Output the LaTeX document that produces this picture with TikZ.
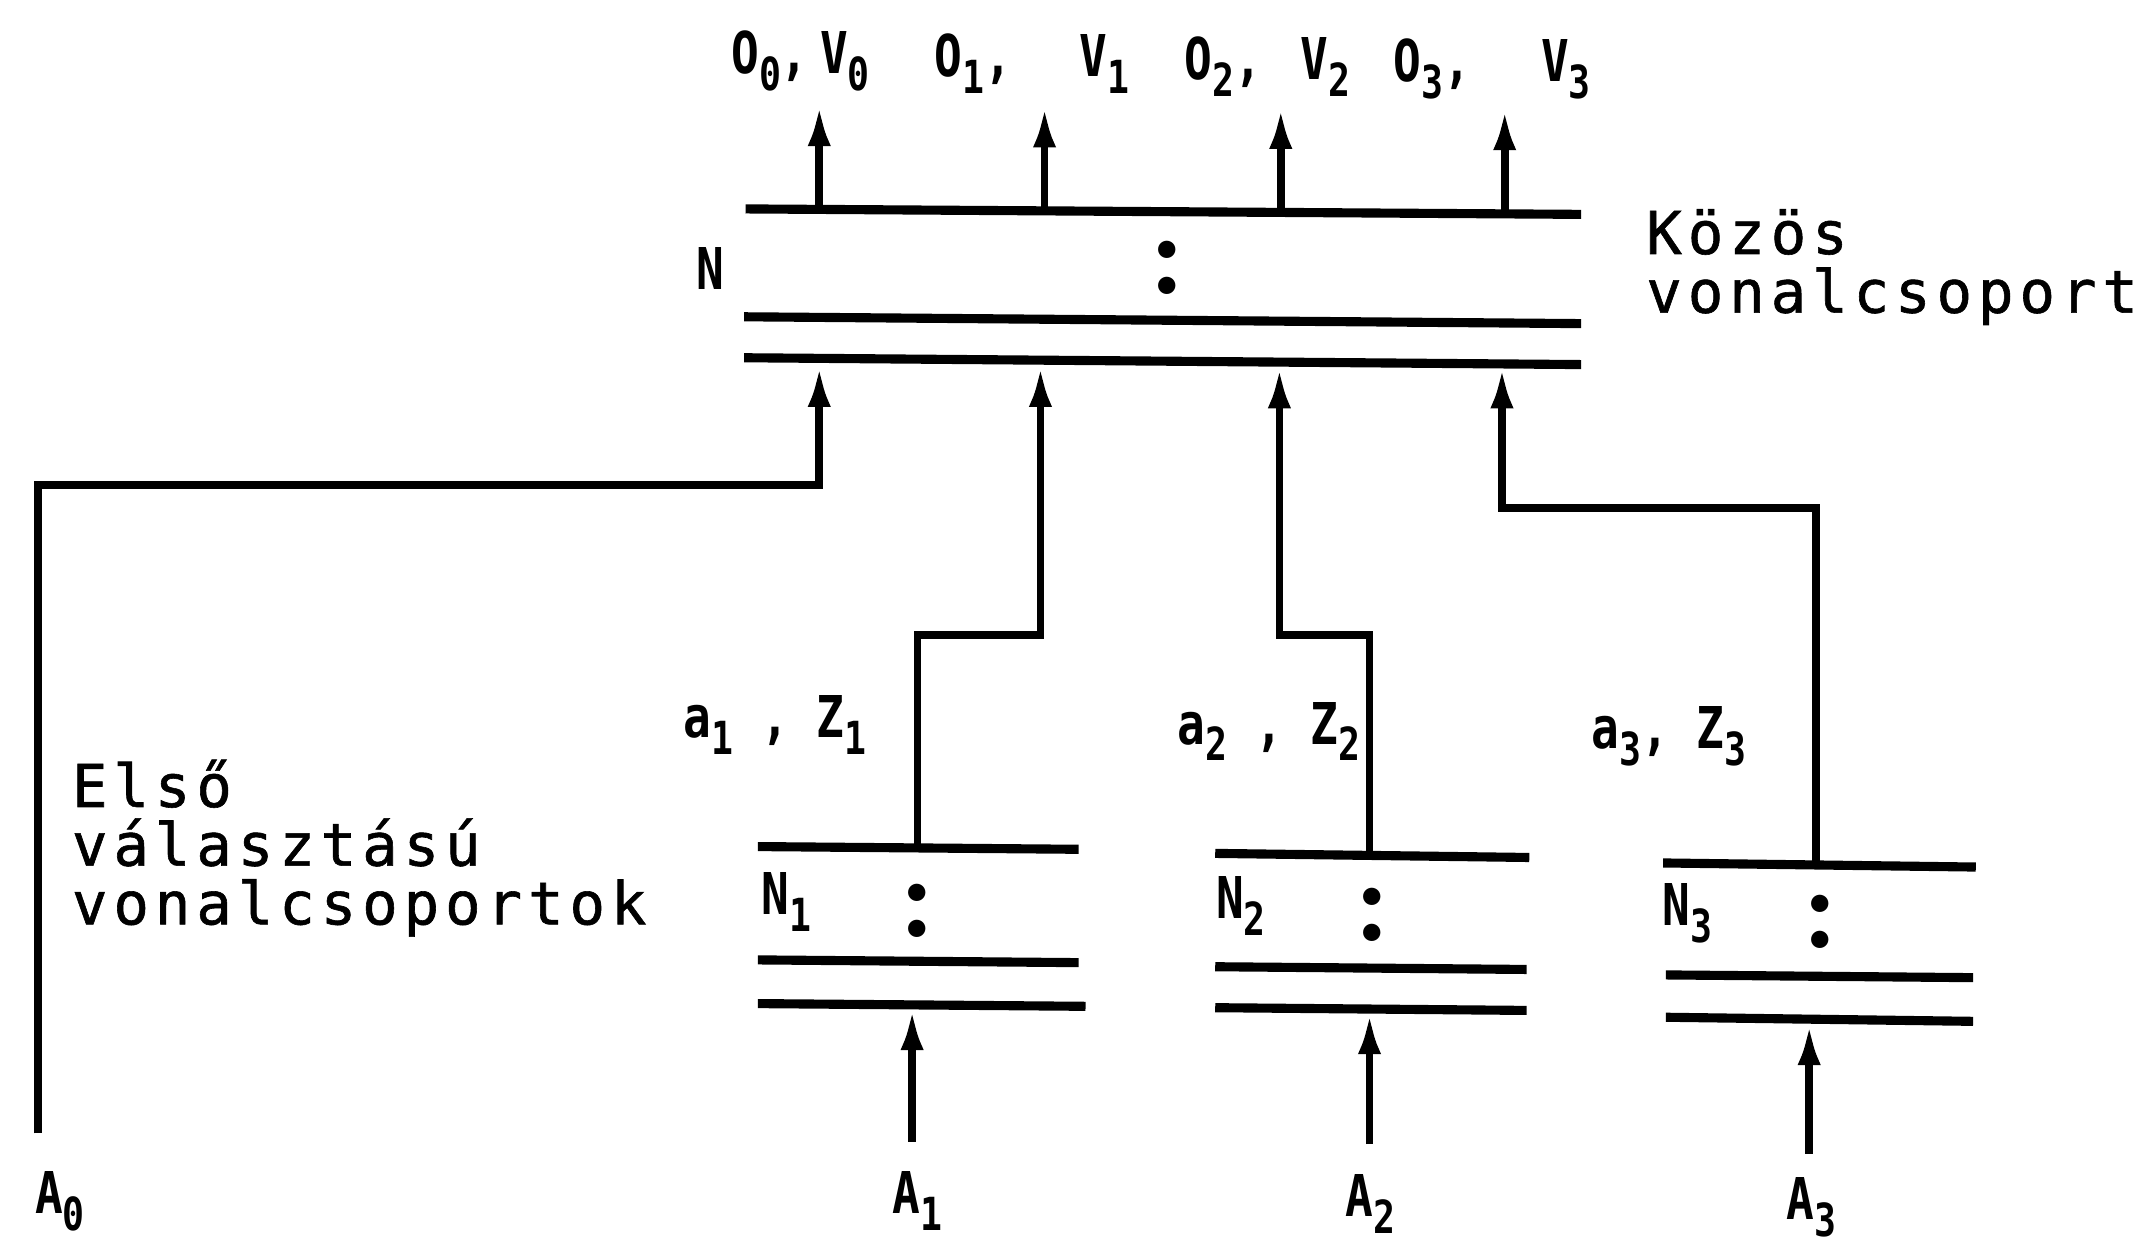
\documentclass[tikz,border=0pt]{standalone}
\usepackage{fontspec}
\usepackage{graphicx}
\usetikzlibrary{arrows.meta}
\newfontfamily\monotext[LetterSpace=10,FakeBold=1]{DejaVu Sans Mono}
\newfontfamily\labfont[FakeStretch=0.8]{DejaVu Sans Mono Bold}
\newcommand\lsub[1]{\raisebox{-3.5pt}{\fontsize{9.5}{9.5}\selectfont #1}}
\begin{document}
\begin{tikzpicture}[x=0.01cm,y=-0.01cm,
  bar/.style={line width=1.9pt},
  wire/.style={line width=1.6pt},
  arr/.style={wire,-{Latex[length=0.30cm,width=0.17cm]}},
  lab/.style={font=\labfont\fontsize{12}{12}\selectfont, inner sep=0},
  txt/.style={font=\monotext\fontsize{12.3}{14}\selectfont, inner sep=0, anchor=base west},
  dots/.style={font=\normalfont\bfseries\fontsize{25}{25}\selectfont, inner sep=0},
]
\useasboundingbox (0,0) rectangle (1568,915);

% ---- common group N ----
\draw[bar] (546,153) -- (1158,157);
\draw[bar] (545,232) -- (1158,237);
\draw[bar] (545,262) -- (1158,267);
\node[lab] (Nlab) at (520,197) {N};
\node[dots] (Ncol) at (855,196) {:};

% outputs
\coordinate (out0) at (600,154);
\coordinate (out1) at (765,155);
\coordinate (out2) at (938,156);
\coordinate (out3) at (1102,157);
\coordinate (tip0) at (600,77);
\coordinate (tip1) at (765,78);
\coordinate (tip2) at (938,79);
\coordinate (tip3) at (1102,80);
\foreach \i in {0,...,3} \draw[arr] (out\i) -- (tip\i);

\node[lab, anchor=base east] (O0) at (593,54) {O\lsub{0},};
\node[lab, anchor=base west] (V0) at (600,54) {V\lsub{0}};
\node[lab, anchor=base east] (O1) at (742,56) {O\lsub{1},};
\node[lab, anchor=base west] (V1) at (790,56) {V\lsub{1}};
\node[lab, anchor=base east] (O2) at (925,58) {O\lsub{2},};
\node[lab, anchor=base west] (V2) at (952,58) {V\lsub{2}};
\node[lab, anchor=base east] (O3) at (1078,60) {O\lsub{3},};
\node[lab, anchor=base west] (V3) at (1128,60) {V\lsub{3}};

\node[txt] (kozos1) at (1205,186) {Közös};
\node[txt] (kozos2) at (1205,229) {vonalcsoport};

% inputs to N
\coordinate (Nin0) at (600,268);
\coordinate (Nin1) at (762,268);
\coordinate (Nin2) at (937,269);
\coordinate (Nin3) at (1100,269);

% ---- first-choice groups ----
\draw[bar] (555,620) -- (790,622);
\draw[bar] (555,703) -- (790,705);
\draw[bar] (555,735) -- (795,737);
\node[lab, anchor=base west] (N1lab) at (557,670) {N\lsub{1}};
\node[dots] (N1col) at (672,667) {:};

\draw[bar] (890,625) -- (1120,628);
\draw[bar] (890,708) -- (1118,710);
\draw[bar] (890,738) -- (1118,740);
\node[lab, anchor=base west] (N2lab) at (890,673) {N\lsub{2}};
\node[dots] (N2col) at (1005,670) {:};

\draw[bar] (1218,632) -- (1447,635);
\draw[bar] (1220,714) -- (1445,716);
\draw[bar] (1220,745) -- (1445,748);
\node[lab, anchor=base west] (N3lab) at (1217,678) {N\lsub{3}};
\node[dots] (N3col) at (1333,675) {:};

\coordinate (n1top) at (672,621);
\coordinate (n2top) at (1003,626);
\coordinate (n3top) at (1330,633);
\coordinate (j0) at (600,355);
\coordinate (j1) at (762,465);
\coordinate (j2) at (937,465);
\coordinate (j3) at (1100,372);

\coordinate (A0end) at (28,830);
\draw[arr] (A0end) |- (j0) -- (Nin0);
\draw[arr] (n1top) |- (j1) -- (Nin1);
\draw[arr] (n2top) |- (j2) -- (Nin2);
\draw[arr] (n3top) |- (j3) -- (Nin3);

\node[lab, anchor=base west] (a1) at (500,540) {a\lsub{1} , Z\lsub{1}};
\node[lab, anchor=base west] (a2) at (862,545) {a\lsub{2} , Z\lsub{2}};
\node[lab, anchor=base west] (a3) at (1165,548) {a\lsub{3}, Z\lsub{3}};

% inputs to first-choice groups
\coordinate (A1src) at (668,836);
\coordinate (A2src) at (1003,838);
\coordinate (A3src) at (1325,845);
\coordinate (n1in) at (668,739);
\coordinate (n2in) at (1003,742);
\coordinate (n3in) at (1325,750);
\draw[arr] (A1src) -- (n1in);
\draw[arr] (A2src) -- (n2in);
\draw[arr] (A3src) -- (n3in);

\node[lab, anchor=base west] (A0) at (25,889) {A\lsub{0}};
\node[lab, anchor=base west] (A1) at (653,889) {A\lsub{1}};
\node[lab, anchor=base west] (A2) at (985,891) {A\lsub{2}};
\node[lab, anchor=base west] (A3) at (1308,893) {A\lsub{3}};

\node[txt] (elso1) at (52,591) {Első};
\node[txt] (elso2) at (52,634) {választású};
\node[txt] (elso3) at (52,677) {vonalcsoportok};
\end{tikzpicture}
\end{document}
